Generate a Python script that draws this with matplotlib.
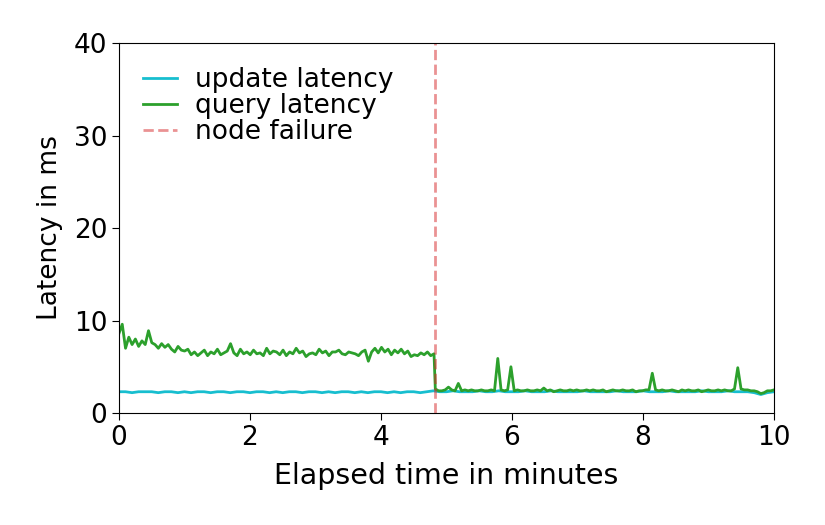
import numpy as np
import matplotlib
matplotlib.use("Agg")
import matplotlib.pyplot as plt

# Query latency (ms), sampled every 0.05 min, before node failure (0.00 .. 4.80 min)
query_ms_before = [
    8.6, 9.6, 7.0, 8.2, 7.4, 8.0, 7.2, 7.8, 7.4, 8.9,
    7.6, 7.4, 7.0, 7.5, 7.1, 7.4, 6.9, 6.6, 7.2, 6.8,
    6.7, 6.9, 6.3, 6.6, 6.2, 6.5, 6.8, 6.2, 6.6, 6.4,
    6.9, 6.3, 6.5, 6.7, 7.5, 6.5, 6.2, 6.9, 6.4, 6.6,
    6.3, 6.8, 6.4, 6.5, 6.2, 7.0, 6.4, 6.7, 6.6, 6.3,
    6.8, 6.2, 6.6, 6.4, 7.0, 6.5, 6.7, 6.1, 6.4, 6.5,
    6.3, 6.9, 6.5, 6.7, 6.2, 6.6, 6.6, 6.8, 6.4, 6.3,
    6.6, 6.5, 6.4, 6.2, 6.6, 6.8, 5.6, 6.6, 7.0, 6.5,
    7.1, 6.6, 6.9, 6.3, 6.8, 6.5, 6.9, 6.4, 6.7, 6.1,
    6.3, 6.2, 6.5, 6.3, 6.6, 6.2, 6.4,
]
# Query latency (ms), after node failure (4.83 .. 10.00 min)
query_ms_after = [
    2.6, 2.4, 2.4, 2.5, 2.8, 2.5, 2.4, 3.2, 2.4, 2.5,
    2.4, 2.5, 2.4, 2.4, 2.5, 2.4, 2.4, 2.5, 2.4, 5.9,
    2.5, 2.4, 2.5, 5.0, 2.4, 2.5, 2.4, 2.4, 2.5, 2.4,
    2.4, 2.5, 2.4, 2.7, 2.4, 2.5, 2.3, 2.4, 2.5, 2.4,
    2.4, 2.5, 2.4, 2.5, 2.4, 2.4, 2.5, 2.4, 2.5, 2.4,
    2.4, 2.5, 2.3, 2.4, 2.5, 2.4, 2.4, 2.5, 2.4, 2.4,
    2.5, 2.3, 2.4, 2.4, 2.5, 2.5, 4.3, 2.5, 2.4, 2.5,
    2.4, 2.4, 2.5, 2.4, 2.3, 2.5, 2.4, 2.5, 2.4, 2.4,
    2.5, 2.3, 2.4, 2.5, 2.4, 2.4, 2.5, 2.4, 2.5, 2.4,
    2.4, 2.6, 4.9, 2.6, 2.5, 2.5, 2.4, 2.4, 2.3, 2.1,
    2.2, 2.4, 2.4, 2.5,
]
# Update latency (ms), sampled every 0.1 min (0 .. 10 min)
update_ms = [
    2.3, 2.3, 2.2, 2.3, 2.3, 2.3, 2.2, 2.3, 2.3, 2.2,
    2.3, 2.2, 2.3, 2.3, 2.2, 2.3, 2.3, 2.2, 2.3, 2.3,
    2.2, 2.3, 2.3, 2.2, 2.3, 2.2, 2.3, 2.3, 2.2, 2.3,
    2.3, 2.2, 2.3, 2.2, 2.3, 2.3, 2.2, 2.3, 2.2, 2.3,
    2.3, 2.2, 2.3, 2.2, 2.3, 2.3, 2.2, 2.3, 2.4, 2.3,
    2.3, 2.4, 2.3, 2.3, 2.3, 2.4, 2.3, 2.3, 2.4, 2.3,
    2.3, 2.3, 2.4, 2.3, 2.3, 2.3, 2.4, 2.3, 2.3, 2.3,
    2.3, 2.4, 2.3, 2.3, 2.3, 2.3, 2.4, 2.3, 2.3, 2.3,
    2.4, 2.3, 2.3, 2.3, 2.4, 2.3, 2.3, 2.3, 2.3, 2.4,
    2.3, 2.3, 2.3, 2.4, 2.3, 2.3, 2.3, 2.2, 2.0, 2.2,
    2.3,
]
failure_time = 4.82
x_max = 10
y_max = 40
x_ticks = [0, 2, 4, 6, 8, 10]
y_ticks = [0, 10, 20, 30, 40]

query_before_t = np.linspace(0, 4.81, len(query_ms_before))
query_after_t = np.linspace(4.83, 10.0, len(query_ms_after))
query_t = np.concatenate([query_before_t, query_after_t])
query_ms = np.array(query_ms_before + query_ms_after)
update_t = np.linspace(0, 10, len(update_ms))

fig = plt.figure(figsize=(8.25, 5.25), dpi=100)
ax = fig.add_axes([0.1442, 0.2133, 0.7939, 0.7047])

ax.plot(update_t, update_ms, color="#17becf", lw=2, label="update latency")
ax.plot(query_t, query_ms, color="#2ca02c", lw=2, label="query latency")
ax.axvline(failure_time, color="#d62728", alpha=0.5, lw=2, ls="--", label="node failure")

ax.set_xlim(0, x_max)
ax.set_ylim(0, y_max)
ax.set_xticks(x_ticks)
ax.set_yticks(y_ticks)
ax.tick_params(labelsize=19, length=5)
ax.set_xlabel("Elapsed time in minutes", fontsize=20.5, labelpad=8)
ax.set_ylabel("Latency in ms", fontsize=19, labelpad=8)
ax.legend(loc="upper left", frameon=False, fontsize=19, labelspacing=0.0,
          handlelength=1.3, handletextpad=0.7, borderaxespad=0.4,
          borderpad=0.5)

fig.savefig("out.png", dpi=100)
